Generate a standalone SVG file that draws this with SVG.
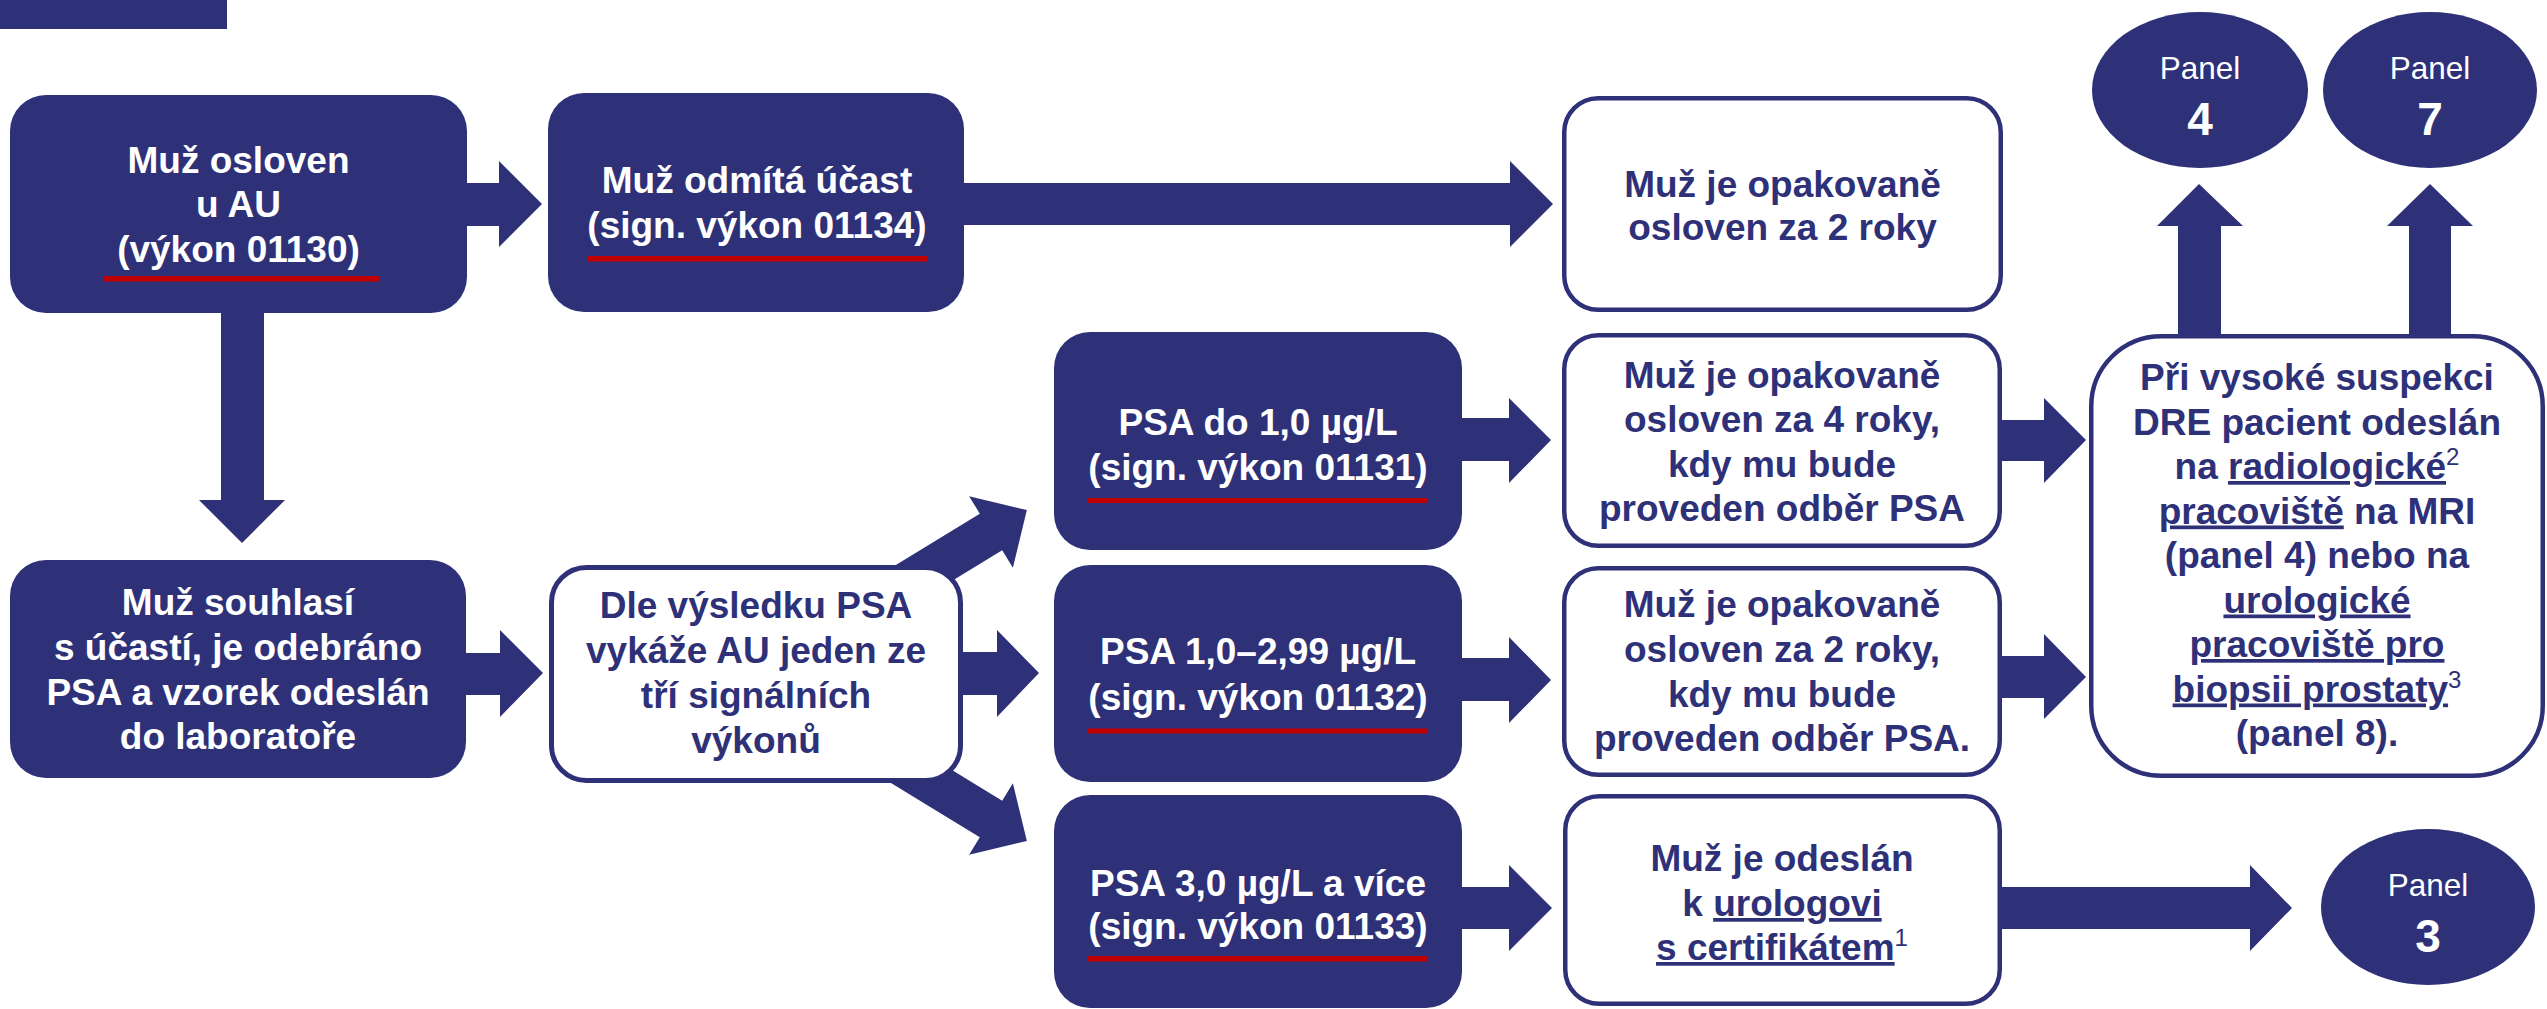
<svg xmlns="http://www.w3.org/2000/svg" width="2547" height="1009" viewBox="0 0 2547 1009">
<style>
.dk{fill:#2E3178}
.wb{fill:#fff;stroke:#2E3178;stroke-width:4.5}
.t{font-family:"Liberation Sans",Arial,sans-serif;font-weight:bold;font-size:37px;text-anchor:middle}
.tw{fill:#fff}
.tn{fill:#2E3178}
.red{fill:#C00000}
.sup{font-weight:normal;font-size:24px}
.u{text-decoration:underline}
.pl{font-family:"Liberation Sans",Arial,sans-serif;font-size:31.5px;fill:#fff;text-anchor:middle}
.pn{font-family:"Liberation Sans",Arial,sans-serif;font-weight:bold;font-size:46px;fill:#fff;text-anchor:middle}
</style>
<rect x="0" y="0" width="227" height="29" class="dk"/>
<g id="connectors" class="dk">
<polygon points="465,183 499,183 499,161 542,204 499,247 499,226 465,226"/>
<polygon points="962,183 1510,183 1510,161 1553,204 1510,247 1510,225 962,225"/>
<polygon points="221,311 264,311 264,500 285,500 242,543 199,500 221,500"/>
<polygon points="464,653 500,653 500,630 543,673 500,717 500,695 464,695"/>
<polygon points="960,652 997,652 997,630 1039,673 997,717 997,695 960,695"/>
<polygon transform="translate(991,532) rotate(-31.4)" points="-130,-21.5 0,-21.5 0,-42 42,0 0,42 0,21.5 -130,21.5"/>
<polygon transform="translate(991,819) rotate(31.4)" points="-130,-21.5 0,-21.5 0,-42 42,0 0,42 0,21.5 -130,21.5"/>
<polygon points="1460,418 1509,418 1509,398 1551,440 1509,483 1509,461 1460,461"/>
<polygon points="1460,658 1509,658 1509,637 1551,680 1509,723 1509,701 1460,701"/>
<polygon points="1460,887 1509,887 1509,865 1552,908 1509,951 1509,929 1460,929"/>
<polygon points="2000,420 2044,420 2044,398 2086,440 2044,483 2044,461 2000,461"/>
<polygon points="2000,656 2044,656 2044,634 2086,677 2044,719 2044,698 2000,698"/>
<polygon points="2000,887 2250,887 2250,865 2292,908 2250,951 2250,929 2000,929"/>
<polygon points="2178,338 2178,226 2157,226 2199,184 2243,226 2221,226 2221,338"/>
<polygon points="2409,338 2409,226 2387,226 2430,184 2473,226 2451,226 2451,338"/>
</g>
<g id="n1">
<rect x="10" y="95" width="457" height="218" rx="36" class="dk"/>
<text class="t tw"><tspan x="238.5" y="173">Muž osloven</tspan><tspan x="238.5" y="217">u AU</tspan><tspan x="238.5" y="262">(výkon 01130)</tspan></text>
<rect x="104" y="276" width="275" height="5.5" class="red"/>
</g>
<g id="n2">
<rect x="548" y="93" width="416" height="219" rx="36" class="dk"/>
<text class="t tw"><tspan x="757" y="193">Muž odmítá účast</tspan><tspan x="757" y="238">(sign. výkon 01134)</tspan></text>
<rect x="587" y="256" width="341" height="5.5" class="red"/>
</g>
<g id="n3">
<rect x="1564.25" y="98.25" width="436.5" height="211.5" rx="34" class="wb"/>
<text class="t tn"><tspan x="1782.5" y="197">Muž je opakovaně</tspan><tspan x="1782.5" y="240">osloven za 2 roky</tspan></text>
</g>
<g id="n4">
<rect x="10" y="560" width="456" height="218" rx="36" class="dk"/>
<text class="t tw"><tspan x="238" y="615">Muž souhlasí</tspan><tspan x="238" y="660">s účastí, je odebráno</tspan><tspan x="238" y="705">PSA a vzorek odeslán</tspan><tspan x="238" y="749">do laboratoře</tspan></text>
</g>
<g id="n5">
<rect x="551.5" y="567.5" width="409" height="213" rx="35" fill="#fff" stroke="#2E3178" stroke-width="5"/>
<text class="t tn"><tspan x="756" y="618">Dle výsledku PSA</tspan><tspan x="756" y="663">vykáže AU jeden ze</tspan><tspan x="756" y="708">tří signálních</tspan><tspan x="756" y="753">výkonů</tspan></text>
</g>
<g id="psa1">
<rect x="1054" y="332" width="408" height="218" rx="36" class="dk"/>
<text class="t tw"><tspan x="1258" y="435">PSA do 1,0 µg/L</tspan><tspan x="1258" y="480">(sign. výkon 01131)</tspan></text>
<rect x="1087.5" y="498" width="340.5" height="5" class="red"/>
</g>
<g id="psa2">
<rect x="1054" y="565" width="408" height="217" rx="36" class="dk"/>
<text class="t tw"><tspan x="1258" y="664">PSA 1,0–2,99 µg/L</tspan><tspan x="1258" y="710">(sign. výkon 01132)</tspan></text>
<rect x="1087.5" y="728.5" width="340.5" height="5" class="red"/>
</g>
<g id="psa3">
<rect x="1054" y="795" width="408" height="213" rx="36" class="dk"/>
<text class="t tw"><tspan x="1258" y="896">PSA 3,0 µg/L a více</tspan><tspan x="1258" y="939">(sign. výkon 01133)</tspan></text>
<rect x="1087.5" y="956" width="340.5" height="5.5" class="red"/>
</g>
<g id="wa">
<rect x="1564.25" y="335.25" width="435.5" height="210.5" rx="34" class="wb"/>
<text class="t tn"><tspan x="1782" y="388">Muž je opakovaně</tspan><tspan x="1782" y="432">osloven za 4 roky,</tspan><tspan x="1782" y="477">kdy mu bude</tspan><tspan x="1782" y="521">proveden odběr PSA</tspan></text>
</g>
<g id="wb">
<rect x="1564.25" y="568.25" width="435.5" height="206.5" rx="34" class="wb"/>
<text class="t tn"><tspan x="1782" y="617">Muž je opakovaně</tspan><tspan x="1782" y="662">osloven za 2 roky,</tspan><tspan x="1782" y="707">kdy mu bude</tspan><tspan x="1782" y="751">proveden odběr PSA.</tspan></text>
</g>
<g id="wc">
<rect x="1565.25" y="796.25" width="434.5" height="207.5" rx="34" class="wb"/>
<text class="t tn"><tspan x="1782" y="871">Muž je odeslán</tspan><tspan x="1782" y="916">k <tspan class="u">urologovi</tspan></tspan><tspan x="1782" y="960"><tspan class="u">s certifikátem</tspan><tspan class="sup" dy="-14">1</tspan></tspan></text>
</g>
<g id="right">
<rect x="2091.25" y="336.25" width="451.5" height="439.5" rx="70" class="wb"/>
<text class="t tn"><tspan x="2317" y="390">Při vysoké suspekci</tspan><tspan x="2317" y="434.5">DRE pacient odeslán</tspan><tspan x="2317" y="479">na <tspan class="u">radiologické</tspan><tspan class="sup" dy="-14">2</tspan></tspan><tspan x="2317" y="523.5"><tspan class="u">pracoviště</tspan> na MRI</tspan><tspan x="2317" y="568">(panel 4) nebo na</tspan><tspan x="2317" y="612.5"><tspan class="u">urologické</tspan></tspan><tspan x="2317" y="657"><tspan class="u">pracoviště pro</tspan></tspan><tspan x="2317" y="701.5"><tspan class="u">biopsii prostaty</tspan><tspan class="sup" dy="-14">3</tspan></tspan><tspan x="2317" y="746">(panel 8).</tspan></text>
</g>
<g id="panel4">
<ellipse cx="2200" cy="90" rx="108" ry="78" class="dk"/>
<text class="pl" x="2200" y="79">Panel</text>
<text class="pn" x="2200" y="135">4</text>
</g>
<g id="panel7">
<ellipse cx="2430" cy="90" rx="107" ry="78" class="dk"/>
<text class="pl" x="2430" y="79">Panel</text>
<text class="pn" x="2430" y="135">7</text>
</g>
<g id="panel3">
<ellipse cx="2428" cy="907" rx="107" ry="78" class="dk"/>
<text class="pl" x="2428" y="896">Panel</text>
<text class="pn" x="2428" y="952">3</text>
</g>
</svg>
